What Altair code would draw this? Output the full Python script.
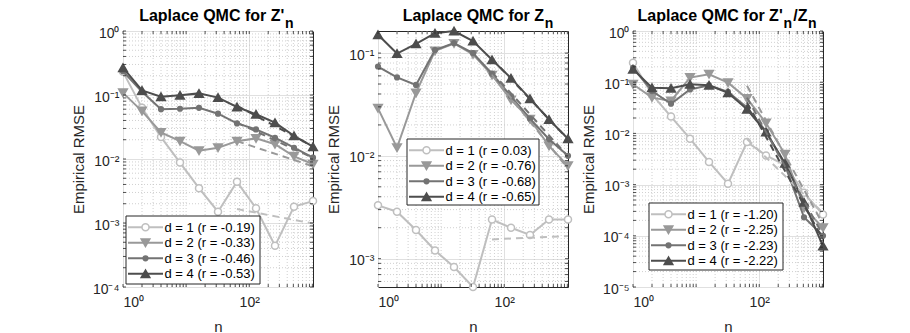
import altair as alt
import pandas as pd

FONT = "Liberation Sans"
TXT = "#262626"

N = [1, 2, 4, 8, 16, 32, 64, 128, 256, 512, 1024]
FIT_N = [64, 1024]
COLORS = ["#bfbfbf", "#999999", "#737373", "#4d4d4d"]
FILLS = ["#ffffff", "#999999", "#737373", "#4d4d4d"]
SHAPES = ["circle", "triangle-down", "circle", "triangle-up"]
SIZES = [49, 75, 22, 75]

# ---- Panel 1: Laplace QMC for Z'_n
zp_d1 = [0.23, 0.063, 0.022, 0.0088, 0.0035, 0.0015, 0.0044, 0.0017, 0.00044, 0.0018, 0.0022]
zp_d2 = [0.108, 0.056, 0.026, 0.019, 0.0135, 0.015, 0.019, 0.021, 0.017, 0.011, 0.0083]
zp_d3 = [0.235, 0.112, 0.060, 0.061, 0.063, 0.051, 0.036, 0.029, 0.0215, 0.015, 0.0105]
zp_d4 = [0.267, 0.118, 0.094, 0.099, 0.106, 0.091, 0.065, 0.050, 0.037, 0.023, 0.0156]
zp_r = ["-0.19", "-0.33", "-0.46", "-0.53"]
zp_fit_lo = [0.00165, 0.019, 0.037, 0.068]
zp_fit_hi = [0.00098, 0.0077, 0.0104, 0.0157]

# ---- Panel 2: Laplace QMC for Z_n
z_d1 = [0.0033, 0.00286, 0.0019, 0.0012, 0.00083, 0.00053, 0.0024, 0.002, 0.0017, 0.0024, 0.0024]
z_d2 = [0.029, 0.012, 0.041, 0.105, 0.124, 0.097, 0.061, 0.035, 0.0227, 0.0125, 0.008]
z_d3 = [0.074, 0.058, 0.049, 0.107, 0.125, 0.1, 0.063, 0.038, 0.023, 0.0145, 0.01]
z_d4 = [0.151, 0.099, 0.123, 0.156, 0.164, 0.131, 0.086, 0.057, 0.036, 0.0226, 0.0147]
z_r = ["0.03", "-0.76", "-0.68", "-0.65"]
z_fit_lo = [0.00154, 0.062, 0.065, 0.088]
z_fit_hi = [0.00166, 0.0075, 0.0099, 0.0145]

# ---- Panel 3: Laplace QMC for Z'_n / Z_n
q_d1 = [0.24, 0.058, 0.0213, 0.0079, 0.00277, 0.00104, 0.0068, 0.0037, 0.0024, 0.00069, 0.00026]
q_d2 = [0.091, 0.05, 0.043, 0.123, 0.143, 0.098, 0.048, 0.016, 0.0039, 0.00035, 0.000144]
q_d3 = [0.19, 0.067, 0.038, 0.072, 0.087, 0.065, 0.032, 0.011, 0.0024, 0.00023, 0.0001]
q_d4 = [0.18, 0.078, 0.076, 0.091, 0.087, 0.062, 0.0295, 0.0106, 0.0026, 0.00045, 0.000063]
q_r = ["-1.20", "-2.25", "-2.23", "-2.22"]
q_fit_lo = [0.0078, 0.085, 0.05, 0.04]
q_fit_hi = [0.00028, 0.000167, 0.000103, 0.000085]

X_TICKS = [1, 100]
X_LABELS = ["10\u2070", "10\u00b9", "10\u00b2", "10\u00b3"]
Y_LABELS = ["10\u207b\u2075", "10\u207b\u2074", "10\u207b\u00b3", "10\u207b\u00b2", "10\u207b\u00b9", "10\u2070"]

W, H = 190, 256


def minor_vals(lo, hi):
    out = []
    k = -6
    while 10.0 ** k <= hi:
        for m in range(2, 10):
            v = m * 10.0 ** k
            if lo <= v <= hi:
                out.append(v)
        k += 1
    return out


def decades(lo, hi):
    out = []
    for k in range(-6, 4):
        v = 10.0 ** k
        if lo * 0.999 <= v <= hi * 1.001:
            out.append(v)
    return out


def make_panel(series, fit_lo, fit_hi, r_labels, ydom, titles, legbox):
    xs = alt.Scale(type="log", domain=[1, 1024], nice=False)
    ys = alt.Scale(type="log", domain=ydom, nice=False)
    xaxis = alt.Axis(values=X_TICKS, labelExpr=f"{X_LABELS}[round(log(datum.value)/LN10)]",
                     title="n", grid=True, gridColor="#e0e0e0", gridWidth=1, domain=False, ticks=False,
                     labelFont=FONT, labelFontSize=14, labelColor=TXT, labelPadding=8,
                     titleFont=FONT, titleFontSize=15, titleFontWeight="normal", titleColor=TXT,
                     titleX=W / 2, titleY=39, titleBaseline="middle")
    yvals = decades(*ydom)
    yaxis = alt.Axis(values=yvals, labelExpr=f"{Y_LABELS}[round(log(datum.value)/LN10)+5]",
                     title="Empirical RMSE", grid=True, gridColor="#e0e0e0", gridWidth=1, domain=False,
                     ticks=False, labelFont=FONT, labelFontSize=14, labelColor=TXT, labelPadding=4,
                     labelOffset=2,
                     titleFont=FONT, titleFontSize=15, titleFontWeight="normal", titleColor=TXT,
                     titleX=-45, titleY=H / 2, titleBaseline="middle", titleAngle=270)

    xminor = minor_vals(1, 1024) + [10, 1000]
    yminor = minor_vals(*ydom)
    xall = sorted(set(xminor + X_TICKS))
    yall = sorted(set(yminor + yvals))

    layers = []
    gx = pd.DataFrame({"v": xminor})
    gy = pd.DataFrame({"v": yminor})
    layers.append(alt.Chart(gx).mark_rule(color="#c4c4c4", strokeDash=[1, 2], strokeWidth=0.8).encode(
        x=alt.X("v:Q", scale=xs, axis=xaxis), y=alt.value(0), y2=alt.value(H)))
    layers.append(alt.Chart(gy).mark_rule(color="#c4c4c4", strokeDash=[1, 2], strokeWidth=0.8).encode(
        y=alt.Y("v:Q", scale=ys, axis=yaxis), x=alt.value(0), x2=alt.value(W)))

    # data series
    for i, vals in enumerate(series):
        df = pd.DataFrame({"n": N, "v": vals})
        base = alt.Chart(df).encode(x=alt.X("n:Q", scale=xs, axis=xaxis),
                                    y=alt.Y("v:Q", scale=ys, axis=yaxis))
        layers.append(base.mark_line(color=COLORS[i], strokeWidth=2))
        layers.append(base.mark_point(shape=SHAPES[i], size=SIZES[i], fill=FILLS[i], color=COLORS[i],
                                      filled=False, fillOpacity=1, opacity=1, strokeWidth=1.5))
    # fit lines
    for i in range(4):
        fd = pd.DataFrame({"n": FIT_N, "v": [fit_lo[i], fit_hi[i]]})
        layers.append(alt.Chart(fd).mark_line(color=COLORS[i], strokeWidth=2, strokeDash=[7, 5]).encode(
            x=alt.X("n:Q", scale=xs, axis=xaxis), y=alt.Y("v:Q", scale=ys, axis=yaxis)))

    # inside ticks
    tx = pd.DataFrame({"v": xall})
    ty = pd.DataFrame({"v": yall})
    for y0, y1 in [(H, H - 3), (0, 3)]:
        layers.append(alt.Chart(tx).mark_rule(color=TXT, strokeWidth=0.8).encode(
            x=alt.X("v:Q", scale=xs, axis=xaxis), y=alt.value(y0), y2=alt.value(y1)))
    for x0, x1 in [(0, 3), (W, W - 3)]:
        layers.append(alt.Chart(ty).mark_rule(color=TXT, strokeWidth=0.8).encode(
            y=alt.Y("v:Q", scale=ys, axis=yaxis), x=alt.value(x0), x2=alt.value(x1)))

    # legend (box, line + marker sample, label)
    labels = [f"d = {i + 1} (r = {r})" for i, r in enumerate(r_labels)]
    lx, ly, lw, lh = legbox
    one = pd.DataFrame({"k": [0]})
    layers.append(alt.Chart(one).mark_rect(fill="#ffffff", stroke=TXT, strokeWidth=1).encode(
        x=alt.value(lx), x2=alt.value(lx + lw), y=alt.value(ly), y2=alt.value(ly + lh)))
    for i, lab in enumerate(labels):
        ldf = pd.DataFrame({"label": [lab]})
        yc = ly + 11.3 + 15.5 * i
        layers.append(alt.Chart(ldf).mark_rule(color=COLORS[i], strokeWidth=2).encode(
            x=alt.value(lx + 2), x2=alt.value(lx + 37), y=alt.value(yc)))
        layers.append(alt.Chart(ldf).mark_point(shape=SHAPES[i], size=SIZES[i], fill=FILLS[i],
                                                color=COLORS[i], filled=False, fillOpacity=1,
                                                opacity=1, strokeWidth=1.5).encode(
            x=alt.value(lx + 19.5), y=alt.value(yc)))
        layers.append(alt.Chart(ldf).mark_text(align="left", baseline="middle", font=FONT, fontSize=13,
                                               color="#000000").encode(
            text="label:N", x=alt.value(lx + 38.5), y=alt.value(yc + 0.5)))

    # titles
    for text, size, xpos, ypos, align in titles:
        tdf = pd.DataFrame({"t": [text]})
        layers.append(alt.Chart(tdf).mark_text(align=align, baseline="middle", font=FONT, fontSize=size,
                                              fontWeight="bold", color="#000000").encode(
            text="t:N", x=alt.value(xpos), y=alt.value(ypos)))

    return alt.layer(*layers).properties(width=W, height=H)


TY, SY, SS = -15, -7, 14
p1 = make_panel([zp_d1, zp_d2, zp_d3, zp_d4], zp_fit_lo, zp_fit_hi, zp_r, [1e-4, 1.0],
                [("Laplace QMC for Z'", 16, 161.3, TY, "right"), ("n", SS, 162, SY, "left")],
                (3, 185, 134, 68))
p2 = make_panel([z_d1, z_d2, z_d3, z_d4], z_fit_lo, z_fit_hi, z_r, [0.00053, 0.164],
                [("Laplace QMC for Z", 16, 166, TY, "right"), ("n", SS, 166.7, SY, "left")],
                (29, 108, 132, 66))
p3 = make_panel([q_d1, q_d2, q_d3, q_d4], q_fit_lo, q_fit_hi, q_r, [1e-5, 1.0],
                [("Laplace QMC for Z'", 16, 149.7, TY, "right"), ("n", SS, 150.4, SY, "left"),
                 ("/Z", 16, 160.3, TY, "left"), ("n", SS, 175, SY, "left")],
                (16, 172, 134, 67))

chart = alt.hconcat(p1, p2, p3, spacing=65, bounds="flush").properties(
    padding={"left": 62, "top": -1, "right": 0, "bottom": 0}
).configure_view(stroke=TXT, strokeWidth=1)

chart.save("out.html", embed_options={"renderer": "svg", "actions": False})
